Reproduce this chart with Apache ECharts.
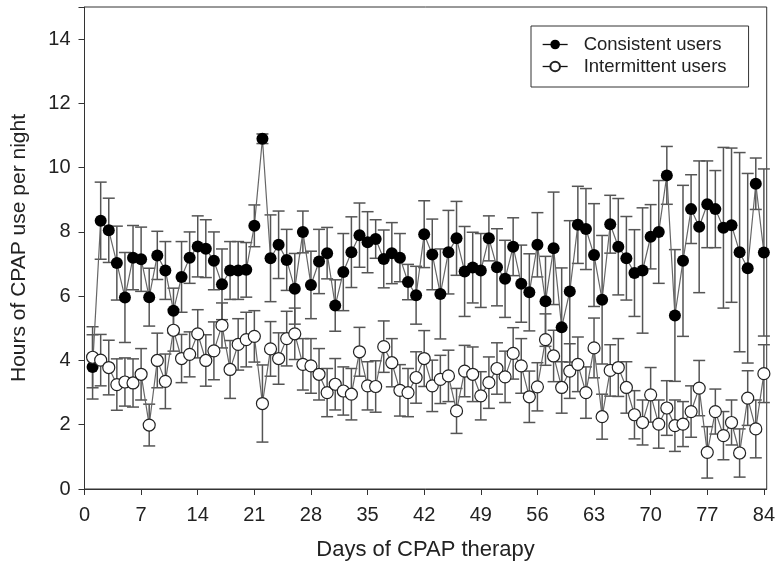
<!DOCTYPE html>
<html>
<head>
<meta charset="utf-8">
<script src="https://cdn.jsdelivr.net/npm/echarts@6/dist/echarts.min.js"></script>
<style>
  html, body { margin: 0; padding: 0; background: #fff; }
  #chart { width: 778px; height: 572px; }
</style>
</head>
<body>
<div id="chart"></div>
<script>
  // days of CPAP therapy
  var days = [1, 2, 3, 4, 5, 6, 7, 8, 9, 10, 11, 12, 13, 14, 15, 16, 17, 18, 19, 20, 21,
    22, 23, 24, 25, 26, 27, 28, 29, 30, 31, 32, 33, 34, 35, 36, 37, 38, 39, 40, 41, 42,
    43, 44, 45, 46, 47, 48, 49, 50, 51, 52, 53, 54, 55, 56, 57, 58, 59, 60, 61, 62, 63,
    64, 65, 66, 67, 68, 69, 70, 71, 72, 73, 74, 75, 76, 77, 78, 79, 80, 81, 82, 83, 84];

  // consistent users: mean hours and error
  var consistentMean = [3.80, 8.35, 8.05, 7.03, 5.96, 7.20, 7.15, 5.97, 7.27, 6.80, 5.55, 6.60,
    7.20, 7.55, 7.48, 7.10, 6.37, 6.80, 6.80, 6.82, 8.19, 10.90, 7.18, 7.60, 7.13, 6.23, 8.00,
    6.35, 7.08, 7.34, 5.71, 6.75, 7.37, 7.90, 7.68, 7.78, 7.16, 7.34, 7.20, 6.44, 6.03, 7.93,
    7.30, 6.07, 7.37, 7.80, 6.77, 6.89, 6.80, 7.80, 6.90, 6.54, 7.54, 6.39, 6.12, 7.60, 5.84,
    7.49, 5.03, 6.15, 8.22, 8.09, 7.28, 5.89, 8.24, 7.54, 7.18, 6.72, 6.80, 7.85, 8.00, 9.76,
    5.40, 7.10, 8.71, 8.16, 8.86, 8.71, 8.13, 8.21, 7.37, 6.87, 9.50, 7.36];
  var consistentErr = [1.0, 1.2, 1.0, 1.15, 1.4, 1.0, 1.0, 0.9, 0.75, 0.9, 0.7, 1.1,
    0.8, 0.95, 0.9, 0.9, 1.1, 0.9, 0.9, 0.85, 0.65, 0.15, 1.35, 1.05, 0.95, 1.1, 0.65,
    1.05, 1.0, 0.8, 0.8, 1.2, 1.1, 1.0, 0.95, 0.6, 0.9, 0.95, 0.75, 0.55, 0.9, 1.04,
    1.1, 1.4, 1.3, 1.15, 1.4, 1.1, 1.15, 0.7, 1.2, 1.2, 0.9, 1.2, 1.2, 1.0, 1.4,
    1.75, 1.85, 2.2, 1.2, 1.26, 1.6, 2.0, 0.9, 1.5, 1.3, 1.35, 1.95, 1.0, 1.6, 0.9,
    2.05, 2.35, 1.07, 2.05, 1.35, 1.2, 2.5, 2.4, 3.1, 2.95, 0.8, 2.6];

  // intermittent users: mean hours and error
  var intermittentMean = [4.10, 4.01, 3.78, 3.25, 3.33, 3.30, 3.57, 1.99, 4.00, 3.35, 4.94, 4.06,
    4.19, 4.83, 4.00, 4.30, 5.09, 3.72, 4.50, 4.65, 4.75, 2.66, 4.36, 4.06, 4.68, 4.83, 3.88,
    3.83, 3.57, 3.00, 3.26, 3.05, 2.95, 4.27, 3.21, 3.19, 4.43, 3.93, 3.07, 3.00, 3.47, 4.06,
    3.21, 3.41, 3.52, 2.43, 3.67, 3.57, 2.90, 3.31, 3.75, 3.49, 4.22, 3.83, 2.87, 3.18, 4.65,
    4.14, 3.16, 3.67, 3.88, 3.00, 4.39, 2.25, 3.69, 3.78, 3.16, 2.31, 2.07, 2.93, 2.02, 2.52,
    1.97, 2.02, 2.41, 3.14, 1.14, 2.41, 1.66, 2.07, 1.12, 2.83, 1.87, 3.59];
  var intermittentErr = [0.95, 0.8, 0.85, 0.8, 0.75, 0.75, 0.8, 0.65, 0.85, 0.85, 0.65, 0.75,
    0.7, 0.75, 0.8, 0.9, 0.7, 0.9, 0.8, 0.85, 0.8, 1.2, 0.85, 0.8, 0.85, 0.8, 0.8,
    0.85, 0.8, 0.75, 0.8, 0.75, 0.8, 0.76, 0.75, 0.8, 0.8, 0.75, 0.8, 0.75, 0.8, 0.87,
    0.8, 0.75, 0.8, 0.7, 0.8, 0.85, 0.75, 0.8, 0.8, 0.8, 0.8, 0.85, 0.8, 0.75, 0.8,
    0.8, 0.8, 0.85, 0.85, 0.8, 0.93, 0.7, 0.8, 0.9, 0.8, 0.75, 0.7, 0.85, 0.75, 0.85,
    0.8, 0.7, 0.8, 0.86, 0.8, 0.7, 0.75, 0.7, 0.75, 0.85, 0.9, 0.9];

  var xTicks = [0, 7, 14, 21, 28, 35, 42, 49, 56, 63, 70, 77, 84];

  var FONT = '"Liberation Sans", Arial, sans-serif';

  function points(means) {
    return days.map(function (d, i) { return [d, means[i]]; });
  }
  function bars(means, errs) {
    return days.map(function (d, i) { return [d, means[i] - errs[i], means[i] + errs[i]]; });
  }

  // whisker with caps
  function renderErr(params, api) {
    var x = api.value(0);
    var top = api.coord([x, api.value(2)]);
    var bot = api.coord([x, api.value(1)]);
    var w = 6;
    var style = { stroke: '#555', lineWidth: 1.5 };
    return {
      type: 'group',
      children: [
        { type: 'line', shape: { x1: top[0], y1: top[1], x2: bot[0], y2: bot[1] }, style: style },
        { type: 'line', shape: { x1: top[0] - w, y1: top[1], x2: top[0] + w, y2: top[1] }, style: style },
        { type: 'line', shape: { x1: bot[0] - w, y1: bot[1], x2: bot[0] + w, y2: bot[1] }, style: style }
      ]
    };
  }

  var chart = echarts.init(document.getElementById('chart'));
  chart.setOption({
    animation: false,
    backgroundColor: '#fff',
    grid: {
      left: 84.5,
      right: 6,
      top: 7,
      bottom: 83,
      show: true,
      borderColor: '#333',
      borderWidth: 1
    },
    legend: {
      orient: 'vertical',
      left: 531,
      top: 26,
      data: ['Consistent users', 'Intermittent users'],
      itemWidth: 25,
      itemHeight: 12,
      itemGap: 3,
      borderColor: '#333',
      borderWidth: 1,
      padding: [9, 22, 11, 11],
      lineStyle: { color: '#111', width: 1.3 },
      textStyle: { fontFamily: FONT, fontSize: 18.5, color: '#222', padding: [0, 0, 0, 11] }
    },
    xAxis: {
      type: 'value',
      min: 0,
      max: 84.35,
      name: 'Days of CPAP therapy',
      nameLocation: 'middle',
      nameGap: 50,
      nameTextStyle: { fontFamily: FONT, fontSize: 22, color: '#222' },
      axisLine: { lineStyle: { color: '#333', width: 1 } },
      axisTick: { show: true, length: 6, lineStyle: { color: '#333' }, customValues: xTicks },
      axisLabel: { fontFamily: FONT, fontSize: 20, color: '#222', margin: 16, customValues: xTicks },
      splitLine: { show: false }
    },
    yAxis: {
      type: 'value',
      min: 0,
      max: 15,
      interval: 2,
      name: 'Hours of CPAP use per night',
      nameLocation: 'middle',
      nameGap: 55,
      nameTextStyle: { fontFamily: FONT, fontSize: 21, color: '#222' },
      axisLine: { show: true, lineStyle: { color: '#333', width: 1 } },
      axisTick: { show: true, length: 6, lineStyle: { color: '#333' } },
      axisLabel: { fontFamily: FONT, fontSize: 20, color: '#222', margin: 14,
        formatter: function (v) { return v > 14 ? '' : v; } },
      splitLine: { show: false }
    },
    series: [
      {
        type: 'custom',
        renderItem: renderErr,
        encode: { x: 0, y: [1, 2] },
        data: bars(consistentMean, consistentErr),
        z: 1
      },
      {
        type: 'custom',
        renderItem: renderErr,
        encode: { x: 0, y: [1, 2] },
        data: bars(intermittentMean, intermittentErr),
        z: 1
      },
      {
        name: 'Consistent users',
        type: 'line',
        data: points(consistentMean),
        symbol: 'circle',
        symbolSize: 12,
        itemStyle: { color: '#000' },
        lineStyle: { color: '#666', width: 1.2 },
        z: 3
      },
      {
        name: 'Intermittent users',
        type: 'line',
        data: points(intermittentMean),
        symbol: 'circle',
        symbolSize: 12,
        itemStyle: { color: '#fff', borderColor: '#222', borderWidth: 1.2 },
        lineStyle: { color: '#666', width: 1.2 },
        z: 4
      }
    ]
  });
</script>
</body>
</html>
